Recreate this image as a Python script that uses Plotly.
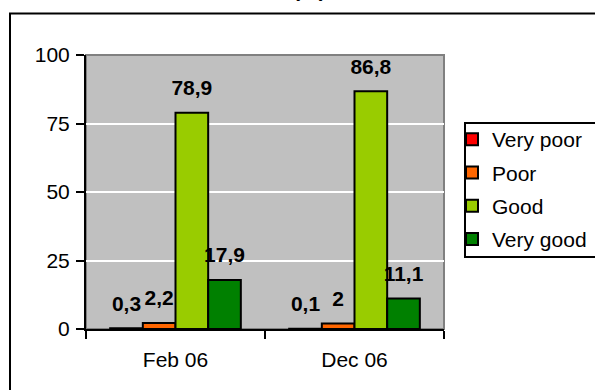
import plotly.graph_objects as go

categories = ["Feb 06", "Dec 06"]
series_names = ["Very poor", "Poor", "Good", "Very good"]
very_poor = [0.3, 0.1]
poor = [2.2, 2]
good = [78.9, 86.8]
very_good = [17.9, 11.1]
series_values = [very_poor, poor, good, very_good]
colors = ["#FF0000", "#FF6600", "#99CC00", "#008000"]
y_ticks = [0, 25, 50, 75, 100]
title_text = "(%)"

W, H = 595, 390
ML, MR, MT, MB = 86, 151, 55, 61
PW, PH = W - ML - MR, H - MT - MB


def px_x(p):
    return (p - ML) / PW


def px_y(p):
    return (H - MB - p) / PH


FONT = "Liberation Sans, Arial, sans-serif"
FS = 21
BARGAP = 0.27

fig = go.Figure()
for i, (name, vals, col) in enumerate(zip(series_names, series_values, colors)):
    fig.add_trace(go.Bar(
        x=categories, y=vals, name=name,
        marker=dict(color=col, line=dict(color="black", width=2)),
        legendgroup=name, offsetgroup=str(i),
    ))
for i, (name, vals) in enumerate(zip(series_names, series_values)):
    fig.add_trace(go.Scatter(
        x=categories, y=vals, mode="markers+text",
        text=[str(v).replace(".", ",") for v in vals],
        textposition="top center",
        textfont=dict(family=FONT, size=FS, color="black", weight="bold"),
        marker=dict(size=18, opacity=0),
        showlegend=False, hoverinfo="skip", cliponaxis=False,
        offsetgroup=str(i),
    ))

fig.update_layout(
    width=W, height=H,
    margin=dict(l=ML, r=MR, t=MT, b=MB, pad=0, autoexpand=False),
    paper_bgcolor="white", plot_bgcolor="#C0C0C0",
    barmode="group", bargap=BARGAP, bargroupgap=0,
    scattermode="group", scattergap=BARGAP,
    font=dict(family=FONT, size=FS, color="black"),
    showlegend=True,
    legend=dict(
        x=px_x(452), xanchor="left", y=px_y(119), yanchor="top",
        bgcolor="rgba(0,0,0,0)", borderwidth=0,
        traceorder="grouped", tracegroupgap=3,
        font=dict(family=FONT, size=FS, color="black"),
    ),
    xaxis=dict(
        showline=True, linecolor="black", linewidth=2,
        ticks="outside", tickson="boundaries", ticklen=8, tickwidth=2, tickcolor="black",
        ticklabelstandoff=11, showgrid=False, zeroline=False,
        tickfont=dict(family=FONT, size=FS, color="black"),
    ),
    yaxis=dict(
        range=[0, 100], tickvals=y_ticks, showline=True, linecolor="black", linewidth=2,
        ticks="outside", ticklen=8, tickwidth=2, tickcolor="black",
        ticklabelstandoff=2,
        showgrid=True, gridcolor="white", gridwidth=1.5, zeroline=False,
        tickfont=dict(family=FONT, size=FS, color="black"),
    ),
    shapes=[
        # plot area border (gray, top/right)
        dict(type="rect", xref="paper", yref="paper", x0=0, x1=1, y0=0, y1=1,
             line=dict(color="#808080", width=2), layer="below"),
        # outer chart frame
        dict(type="rect", xref="paper", yref="paper",
             x0=px_x(10), x1=px_x(640), y0=px_y(13.5), y1=px_y(420),
             line=dict(color="black", width=2), layer="above"),
        # legend frame
        dict(type="rect", xref="paper", yref="paper",
             x0=px_x(465), x1=px_x(640), y0=px_y(123), y1=px_y(257),
             line=dict(color="black", width=2), layer="above"),
    ],
    annotations=[
        dict(text=title_text, xref="paper", yref="paper", x=px_x(309), y=px_y(3),
             xanchor="center", yanchor="bottom", showarrow=False,
             font=dict(family=FONT, size=FS, color="black", weight="bold")),
    ],
)

fig.write_html("out.html")
